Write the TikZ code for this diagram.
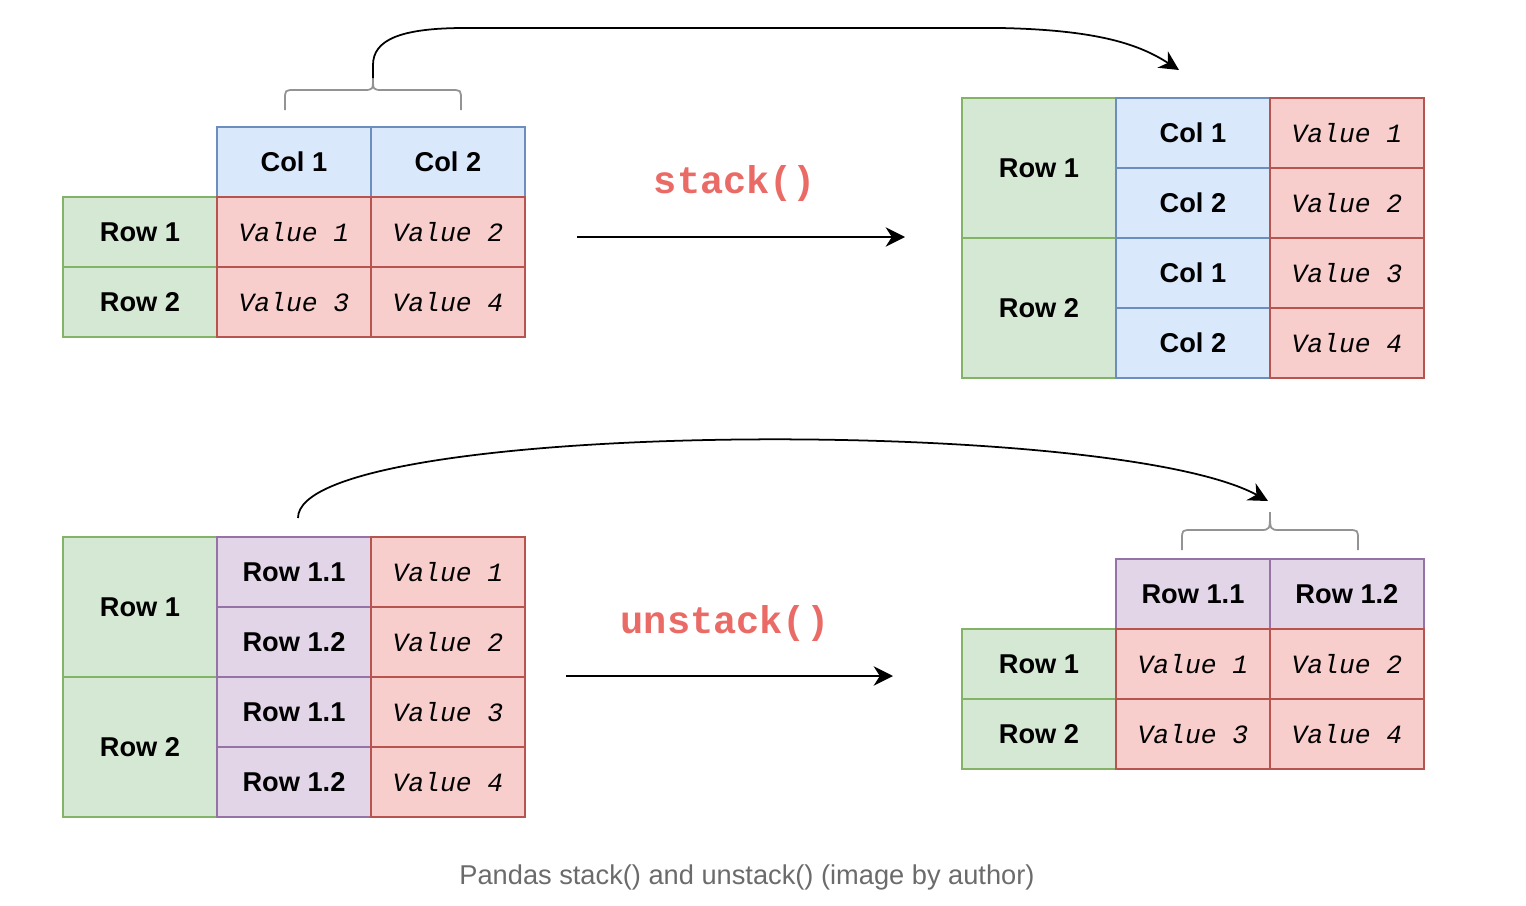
\documentclass[tikz,border=0pt]{standalone}
\usepackage{fontspec}
\setmainfont{Liberation Sans}
\setmonofont{Liberation Mono}
\usetikzlibrary{positioning,arrows.meta}

\definecolor{rowfill}{HTML}{D5E8D4}
\definecolor{rowline}{HTML}{82B366}
\definecolor{colfill}{HTML}{DAE8FC}
\definecolor{colline}{HTML}{6C8EBF}
\definecolor{subfill}{HTML}{E1D5E7}
\definecolor{subline}{HTML}{9673A6}
\definecolor{valfill}{HTML}{F8CECC}
\definecolor{valline}{HTML}{B85450}
\definecolor{opcolor}{HTML}{EA6B66}
\definecolor{capgray}{HTML}{6B6B6B}

\begin{document}
\begin{tikzpicture}[
      x=0.02cm, y=-0.02cm,
      cell/.style={
        draw,
        line width=1.1pt,
        minimum width=3.08cm,
        minimum height=1.4cm,
        inner sep=0pt,
        outer sep=0pt,
        font=\fontsize{15.5}{18}\selectfont\bfseries
      },
      rowcell/.style={cell, fill=rowfill, draw=rowline},
      rowgroup/.style={rowcell, minimum height=2.8cm},
      colcell/.style={cell, fill=colfill, draw=colline},
      subcell/.style={cell, fill=subfill, draw=subline},
      valcell/.style={
        cell,
        fill=valfill,
        draw=valline,
        font=\fontsize{15}{18}\selectfont\ttfamily\itshape
      },
      brace/.style={
        draw=gray!85,
        line width=1pt
      },
      arr/.style={
        line width=1pt,
        -{Stealth[length=11pt,width=11pt,inset=3.5pt]}
      },
      oplabel/.style={
        text=opcolor,
        font=\fontsize{22}{26}\selectfont\ttfamily\bfseries
      }
    ]
    \useasboundingbox (0,0) rectangle (1526,906);

    % stack: input table
    \node[rowcell] (r1) at (140,232) {Row 1};
    \node[rowcell, below=0pt of r1] (r2) {Row 2};
    \node[colcell, above right=0pt of r1] (c1) {Col 1};
    \node[colcell, right=0pt of c1] (c2) {Col 2};
    \node[valcell, right=0pt of r1] (v1) {Value 1};
    \node[valcell, right=0pt of v1] (v2) {Value 2};
    \node[valcell, right=0pt of r2] (v3) {Value 3};
    \node[valcell, right=0pt of v3] (v4) {Value 4};

    \draw[brace] (285,110) -- (285,100) .. controls (285,90) .. (295,90)
      -- (363,90) .. controls (373,90) .. (373,78) coordinate (tip1)
      .. controls (373,90) .. (383,90) -- (451,90)
      .. controls (461,90) .. (461,100) -- (461,110);

    % stack: result table
    \node[rowgroup] (sr1) at (1039,168) {Row 1};
    \node[rowgroup, below=0pt of sr1] (sr2) {Row 2};
    \node[colcell, anchor=north west] (sc1) at (sr1.north east) {Col 1};
    \node[colcell, below=0pt of sc1] (sc2) {Col 2};
    \node[colcell, below=0pt of sc2] (sc3) {Col 1};
    \node[colcell, below=0pt of sc3] (sc4) {Col 2};
    \node[valcell, right=0pt of sc1] (sv1) {Value 1};
    \node[valcell, right=0pt of sc2] (sv2) {Value 2};
    \node[valcell, right=0pt of sc3] (sv3) {Value 3};
    \node[valcell, right=0pt of sc4] (sv4) {Value 4};

    \coordinate (end1) at (1179,70);
    \draw[arr] (tip1) -- (373,65) .. controls (373,40) and (400,28) .. (465,28)
      -- (1000,28) .. controls (1100,30) and (1140,45) .. (end1);

    \coordinate (st0) at (577,237);
    \coordinate (st1) at (905,237);
    \draw[arr] (st0) -- (st1);
    \node[oplabel] (stk) at (735,184) {stack()};

    % unstack: input table
    \node[rowgroup] (ug1) at (140,607) {Row 1};
    \node[rowgroup, below=0pt of ug1] (ug2) {Row 2};
    \node[subcell, anchor=north west] (us1) at (ug1.north east) {Row 1.1};
    \node[subcell, below=0pt of us1] (us2) {Row 1.2};
    \node[subcell, below=0pt of us2] (us3) {Row 1.1};
    \node[subcell, below=0pt of us3] (us4) {Row 1.2};
    \node[valcell, right=0pt of us1] (uv1) {Value 1};
    \node[valcell, right=0pt of us2] (uv2) {Value 2};
    \node[valcell, right=0pt of us3] (uv3) {Value 3};
    \node[valcell, right=0pt of us4] (uv4) {Value 4};

    % unstack: result table
    \node[rowcell] (ur1) at (1039,664) {Row 1};
    \node[rowcell, below=0pt of ur1] (ur2) {Row 2};
    \node[subcell, above right=0pt of ur1] (uh1) {Row 1.1};
    \node[subcell, right=0pt of uh1] (uh2) {Row 1.2};
    \node[valcell, right=0pt of ur1] (uw1) {Value 1};
    \node[valcell, right=0pt of uw1] (uw2) {Value 2};
    \node[valcell, right=0pt of ur2] (uw3) {Value 3};
    \node[valcell, right=0pt of uw3] (uw4) {Value 4};

    \draw[brace] (1182,550) -- (1182,540) .. controls (1182,530) .. (1192,530)
      -- (1260,530) .. controls (1270,530) .. (1270,512)
      .. controls (1270,530) .. (1280,530) -- (1348,530)
      .. controls (1358,530) .. (1358,540) -- (1358,550);

    \coordinate (start2) at (298,518);
    \coordinate (end2) at (1268,501);
    \draw[arr] (start2) .. controls (298,420) and (1110,415) .. (end2);

    \coordinate (un0) at (566,676);
    \coordinate (un1) at (893,676);
    \draw[arr] (un0) -- (un1);
    \node[oplabel] (ustk) at (725,624) {unstack()};

    \node[text=capgray, font=\fontsize{15.5}{18}\selectfont] (cap) at (747,877)
      {Pandas stack() and unstack() (image by author)};
\end{tikzpicture}
\end{document}
